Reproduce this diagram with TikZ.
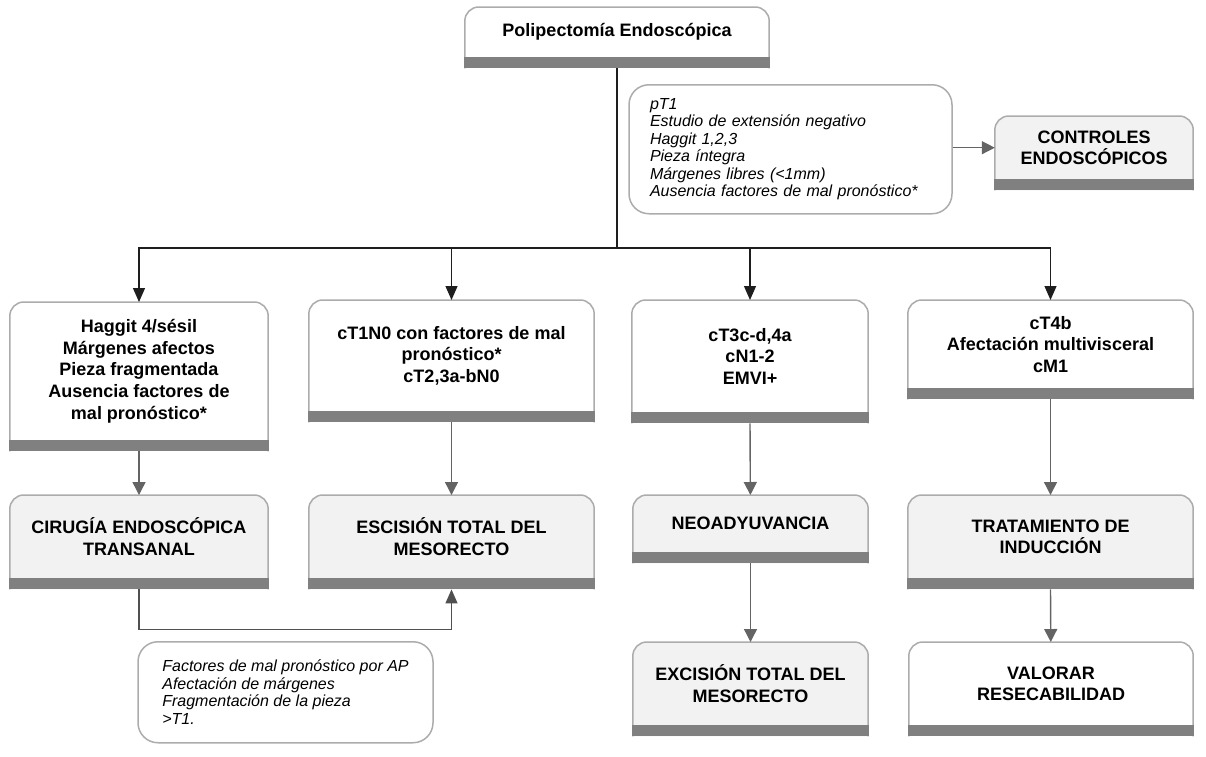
\documentclass[tikz,border=0pt]{standalone}
\usepackage{fontspec}
\setmainfont{Liberation Sans}
\usetikzlibrary{arrows.meta,positioning,calc,backgrounds}
\definecolor{edgegray}{RGB}{172,172,172}
\definecolor{bargray}{RGB}{128,128,128}
\definecolor{boxgray}{RGB}{242,242,242}
\definecolor{arrowgray}{RGB}{100,100,100}
\definecolor{linedark}{RGB}{30,30,30}

\begin{document}
\begin{tikzpicture}[
 x=1pt, y=-1pt,
 box/.style={rectangle, anchor=north, align=center, inner sep=4pt, font=\fontsize{18}{21.6}\selectfont\bfseries},
 note/.style={rectangle, anchor=north, draw=edgegray, line width=1.5pt, rounded corners=20pt, fill=white, align=left, font=\fontsize{16}{17.5}\selectfont\itshape},
 arrow/.style={->, >={Triangle[width=13pt,length=13pt]}, line width=1.4pt, color=arrowgray},
 trunk/.style={line width=1.2pt, color=linedark},
 branch/.style={trunk, ->, >={Triangle[width=12pt,length=14pt]}}
]
\useasboundingbox (0,0) rectangle (1206,756);

% Top: start
\node[box, minimum width=304pt, minimum height=50pt] (top) at (617,7) {Polipectomía Endoscópica};

% Criteria for follow-up
\node[note, text width=281pt, inner xsep=21pt, minimum height=129pt] (crit) at (790.5,84)
 {pT1\\Estudio de extensión negativo\\Haggit 1,2,3\\Pieza íntegra\\Márgenes libres (<1mm)\\Ausencia factores de mal pronóstico*};
\node[box, minimum width=198pt, minimum height=63pt] (controles) at (1094,116) {CONTROLES\\ENDOSCÓPICOS};

% Row 1: staging
\node[box, minimum width=258pt, minimum height=138pt] (haggit) at (139,302)
 {Haggit 4/sésil\\Márgenes afectos\\Pieza fragmentada\\Ausencia factores de\\mal pronóstico*};
\node[box, minimum width=285pt, minimum height=111pt] (ct1) at (451.5,300)
 {cT1N0 con factores de mal\\pronóstico*\\cT2,3a-bN0};
\node[box, minimum width=236pt, minimum height=112pt] (ct3) at (750,300)
 {cT3c-d,4a\\cN1-2\\EMVI+};
\node[box, minimum width=285pt, minimum height=88pt] (ct4) at (1050.5,300)
 {cT4b\\Afectación multivisceral\\cM1};

% Row 2: treatment
\node[box, minimum width=258pt, minimum height=83pt] (cirugia) at (139,495) {CIRUGÍA ENDOSCÓPICA\\TRANSANAL};
\node[box, minimum width=285pt, minimum height=83pt] (esc1) at (451.5,495) {ESCISIÓN TOTAL DEL\\MESORECTO};
\node[box, minimum width=235pt, minimum height=57pt] (neo) at (750.5,495) {NEOADYUVANCIA};
\node[box, minimum width=285pt, minimum height=83pt] (trat) at (1050.5,495) {TRATAMIENTO DE\\INDUCCIÓN};

% Row 3
\node[note, minimum width=295pt, minimum height=101pt] (apnote) at (285.5,641)
 {Factores de mal pronóstico por AP\\Afectación de márgenes\\Fragmentación de la pieza\\>T1.};
\node[box, minimum width=235pt, minimum height=83pt] (esc2) at (750.5,642) {EXCISIÓN TOTAL DEL\\MESORECTO};
\node[box, minimum width=284pt, minimum height=83pt] (valorar) at (1051,642) {VALORAR\\RESECABILIDAD};

% Box outlines with bottom bar
\begin{scope}[on background layer]
\foreach \n/\c in {top/white, controles/boxgray, haggit/white, ct1/white, ct3/white, ct4/white,
  cirugia/boxgray, esc1/boxgray, neo/boxgray, trat/boxgray, esc2/boxgray, valorar/white}{
  \filldraw[fill=\c, draw=edgegray, line width=1.5pt, rounded corners=14pt]
    ([yshift=-11pt]\n.south west) -- (\n.north west) -- (\n.north east) -- ([yshift=-11pt]\n.south east);
  \fill[bargray] ([yshift=-11pt,xshift=-0.75pt]\n.south west) rectangle ([xshift=0.75pt]\n.south east);
  \coordinate (\n-b) at ([yshift=-11pt]\n.south);
}
\end{scope}

% Arrows
\coordinate (split) at (617,248);
\draw[trunk] (top-b) -- (split);
\draw[branch] (split) -| (haggit);
\draw[branch] (split) -| (ct1);
\draw[branch] (split) -| (ct3);
\draw[branch] (split) -| (ct4);

\draw[arrow] (controles.west -| crit.east) -- (controles.west);

\draw[arrow] (haggit-b) -- (cirugia);
\draw[arrow] (ct1-b) -- (esc1);
\draw[arrow] (ct3-b) -- (neo);
\draw[arrow] (ct4-b) -- (trat);
\draw[arrow] (neo-b) -- (esc2);
\draw[arrow] (trat-b) -- (valorar);

\draw[branch, color=arrowgray!80!black] (cirugia-b) -- ++(0,40) -| (esc1-b);

\end{tikzpicture}
\end{document}
